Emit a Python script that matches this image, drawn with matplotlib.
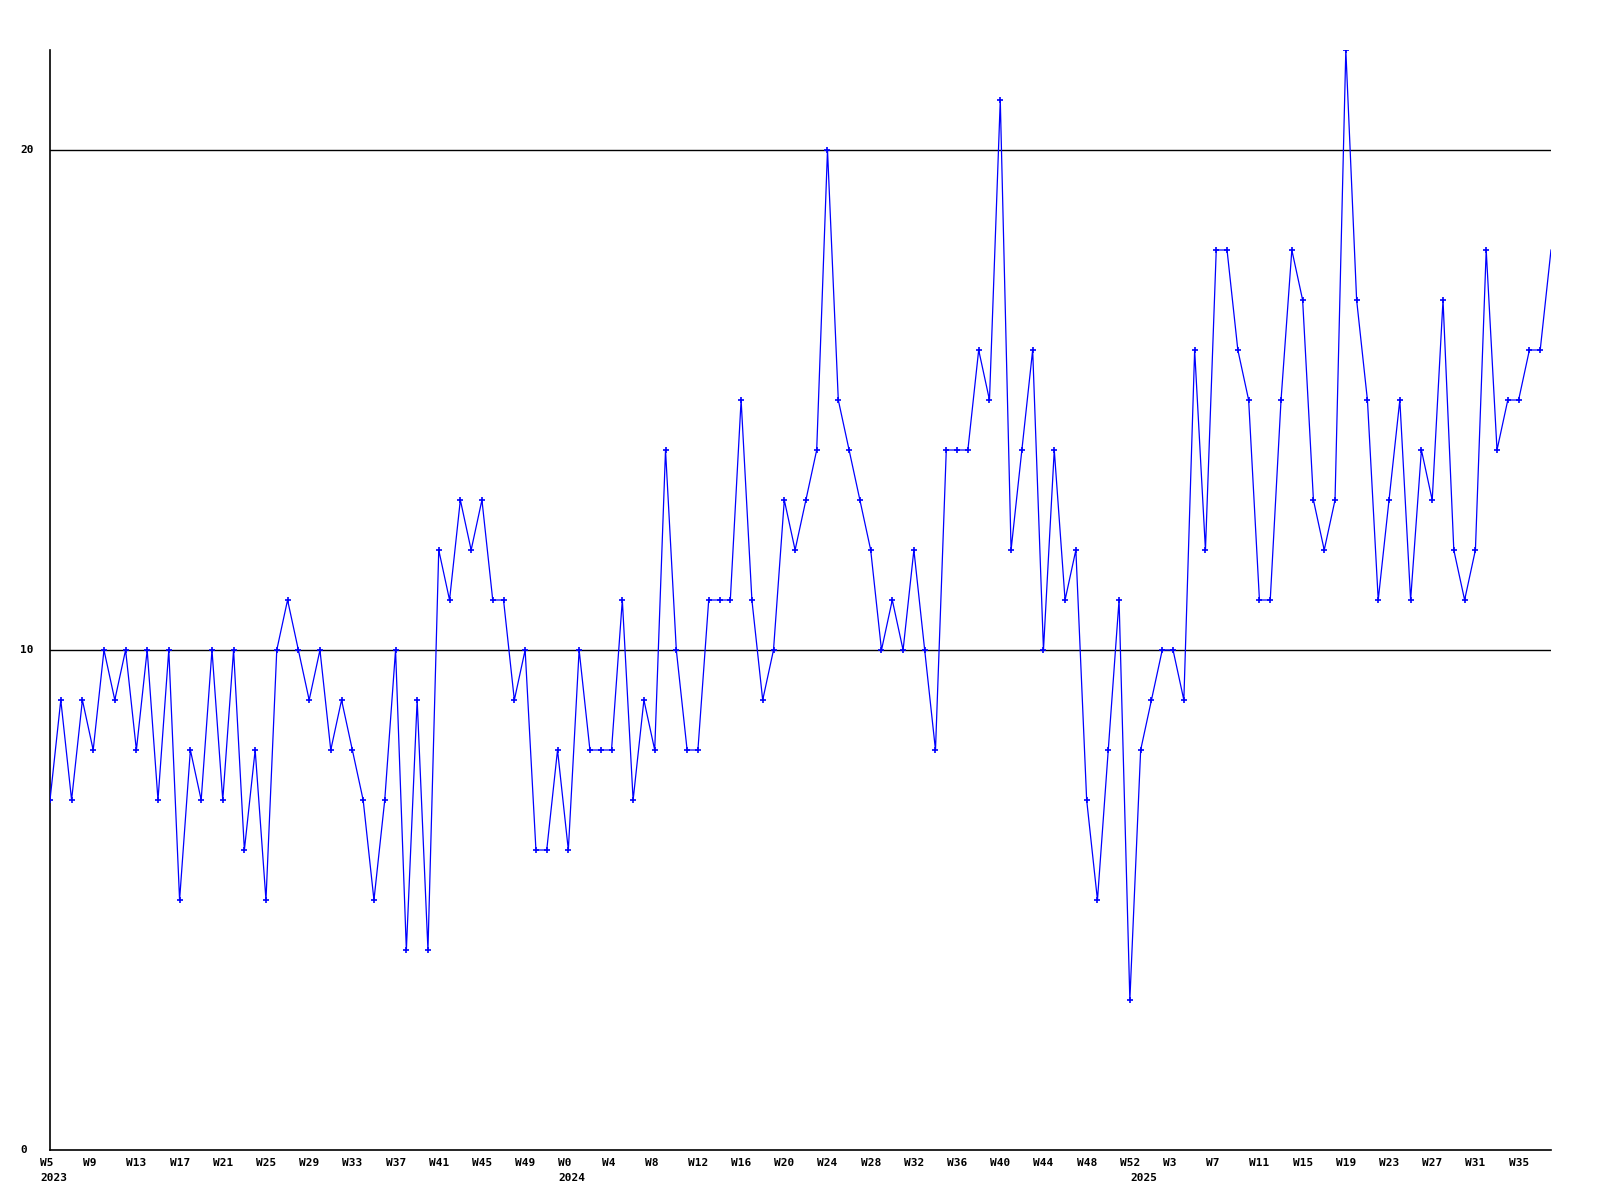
import matplotlib
matplotlib.use("Agg")
import matplotlib.pyplot as plt

values = [
    7, 9, 7, 9, 8, 10, 9, 10, 8, 10,
    7, 10, 5, 8, 7, 10, 7, 10, 6, 8,
    5, 10, 11, 10, 9, 10, 8, 9, 8, 7,
    5, 7, 10, 4, 9, 4, 12, 11, 13, 12,
    13, 11, 11, 9, 10, 6, 6, 8, 6, 10,
    8, 8, 8, 11, 7, 9, 8, 14, 10, 8,
    8, 11, 11, 11, 15, 11, 9, 10, 13, 12,
    13, 14, 20, 15, 14, 13, 12, 10, 11, 10,
    12, 10, 8, 14, 14, 14, 16, 15, 21, 12,
    14, 16, 10, 14, 11, 12, 7, 5, 8, 11,
    3, 8, 9, 10, 10, 9, 16, 12, 18, 18,
    16, 15, 11, 11, 15, 18, 17, 13, 12, 13,
    22, 17, 15, 11, 13, 15, 11, 14, 13, 17,
    12, 11, 12, 18, 14, 15, 15, 16, 16, 18,
]

week_label_idx = [0, 4, 8, 12, 16, 20, 24, 28, 32, 36, 40, 44,
                  48, 52, 56, 60, 64, 68, 72, 76, 80, 84, 88, 92, 96, 100,
                  104, 108, 112, 116, 120, 124, 128, 132, 136]
week_labels = ["W5", "W9", "W13", "W17", "W21", "W25", "W29", "W33", "W37", "W41", "W45", "W49",
               "W0", "W4", "W8", "W12", "W16", "W20", "W24", "W28", "W32", "W36", "W40", "W44", "W48", "W52",
               "W3", "W7", "W11", "W15", "W19", "W23", "W27", "W31", "W35"]
year_label_idx = [0, 48, 101]
year_labels = ["2023", "2024", "2025"]
y_ticks = [0, 10, 20]

fig = plt.figure(figsize=(16, 12), dpi=100)
ax = fig.add_axes([50/1600, 50/1200, 1501/1600, 1100/1200])

x = list(range(len(values)))
ax.plot(x, values, color="#0000ff", linewidth=0.9, zorder=3)
ax.plot(x[:-1], values[:-1], linestyle="none", color="#0000ff", marker="+",
        markersize=4, markeredgewidth=1.2, zorder=4)

ax.set_xlim(0, len(values) - 1)
ax.set_ylim(0, 22)

for v in y_ticks[1:]:
    ax.axhline(v, color="black", linewidth=1.0, zorder=1)

for s in ["top", "right"]:
    ax.spines[s].set_visible(False)
for s in ["left", "bottom"]:
    ax.spines[s].set_color("black")
    ax.spines[s].set_linewidth(1.2)

ax.set_xticks([])
ax.set_yticks([])

font = dict(family="DejaVu Sans Mono", weight="bold", size=8)
for i, lab in zip(week_label_idx, week_labels):
    ax.annotate(lab, xy=(i, 0), xycoords="data", xytext=(-7.2, -6),
                textcoords="offset points", ha="left", va="top", annotation_clip=False, **font)
for i, lab in zip(year_label_idx, year_labels):
    ax.annotate(lab, xy=(i, 0), xycoords="data", xytext=(-7.2, -16.5),
                textcoords="offset points", ha="left", va="top", annotation_clip=False, **font)
for v in y_ticks:
    ax.annotate(str(v), xy=(0, v), xycoords="data", xytext=(-21.6, 0),
                textcoords="offset points", ha="left", va="center", annotation_clip=False, **font)

fig.savefig("out.png", dpi=100, facecolor="white")
